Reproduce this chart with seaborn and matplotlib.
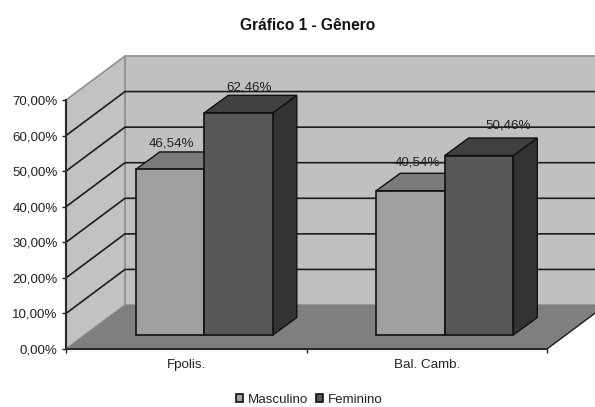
import matplotlib
matplotlib.use("Agg")
import matplotlib.pyplot as plt
from matplotlib.patches import Polygon
from matplotlib.transforms import Affine2D
import pandas as pd
import seaborn as sns

# Survey results by location and gender
locations = ["Fpolis.", "Bal. Camb."]
genders = ["Masculino", "Feminino"]
masculino = [46.54, 40.54]
feminino = [62.46, 50.46]
y_ticks = [0, 10, 20, 30, 40, 50, 60, 70]

W, H = 595, 407
sns.set_theme(style="white")
plt.rcParams["font.family"] = ["Liberation Sans", "DejaVu Sans"]
plt.rcParams["text.color"] = "#222222"

df = pd.DataFrame({
    "local": locations * 2,
    "genero": [genders[0]] * 2 + [genders[1]] * 2,
    "valor": masculino + feminino,
})

fig = plt.figure(figsize=(W / 100, H / 100), dpi=100)
ax = fig.add_axes([66 / W, (H - 349) / H, 481 / W, 249 / H])
ax.set_facecolor("none")

# Pixel-to-data factors for the oblique projection
px_x = 2 / 481
px_y = 70 / 249
wall_dx, wall_dy = 59 * px_x, 44 * px_y
bar_dx, bar_dy = 24 * px_x, 17.5 * px_y
x0, x1 = -0.5, 1.5

# Bars stand part way back on the floor
bar_plane = ax.transData + Affine2D().translate(18, 14)
front_colors = {"Masculino": "#a0a0a0", "Feminino": "#585858"}
sns.barplot(data=df, x="local", y="valor", hue="genero", order=locations,
            hue_order=genders, palette=front_colors, width=0.57, gap=0,
            edgecolor="#111111", linewidth=1.2, saturation=1, ax=ax,
            transform=bar_plane)


def face(points, color, z, edge="#111111", lw=1.0, transform=None):
    ax.add_patch(Polygon(points, closed=True, facecolor=color, edgecolor=edge,
                         linewidth=lw, zorder=z, clip_on=False,
                         transform=transform if transform is not None else ax.transData))


# Room: floor and two walls
face([(x0, 0), (x1, 0), (x1 + wall_dx, wall_dy), (x0 + wall_dx, wall_dy)], "#7f7f7f", 0.2, edge="none")
face([(x0 + wall_dx, wall_dy), (x1 + wall_dx, wall_dy), (x1 + wall_dx, 70 + wall_dy), (x0 + wall_dx, 70 + wall_dy)],
     "#c0c0c0", 0.1, edge="#8f8f8f", lw=1.2)
face([(x0, 0), (x0 + wall_dx, wall_dy), (x0 + wall_dx, 70 + wall_dy), (x0, 70)], "#c2c2c2", 0.1, edge="#8f8f8f", lw=1.2)

# Gridlines run along the side wall and across the back
for v in y_ticks[1:-1]:
    ax.plot([x0, x0 + wall_dx, x1 + wall_dx], [v, v + wall_dy, v + wall_dy],
            color="#1c1c1c", lw=1.2, zorder=0.5, clip_on=False)
ax.plot([x1, x1 + wall_dx], [0, wall_dy], color="#1c1c1c", lw=1.0, zorder=0.5, clip_on=False)

# Side and top faces built from each drawn bar
top_colors = ["#7b7b7b", "#404040"]
side_colors = ["#6e6e6e", "#333333"]
for i, container in enumerate(ax.containers):
    for bar in container:
        a, b, h = bar.get_x(), bar.get_x() + bar.get_width(), bar.get_height()
        base_z = 2 + 2 * i
        face([(b, 0), (b, h), (b + bar_dx, h + bar_dy), (b + bar_dx, bar_dy)],
             side_colors[i], base_z, transform=bar_plane)
        face([(a, h), (b, h), (b + bar_dx, h + bar_dy), (a + bar_dx, h + bar_dy)],
             top_colors[i], base_z, transform=bar_plane)
        bar.set_zorder(base_z + 1)

# Value labels above the bars, nudged clear of the top faces
label_shift_px = {("Masculino", 0): (1, 26), ("Feminino", 0): (11, 25),
                  ("Masculino", 1): (7, 28), ("Feminino", 1): (29, 30)}
series = [masculino, feminino]
for i, values in enumerate(series):
    for j, value in enumerate(values):
        bar = ax.containers[i][j]
        cx = bar.get_x() + bar.get_width() / 2
        sx, sy = label_shift_px[(genders[i], j)]
        ax.annotate(f"{value:.2f}%".replace(".", ","), (cx, value), xycoords=bar_plane,
                    xytext=(sx * 0.72, sy * 0.72), textcoords="offset points",
                    ha="center", va="center", fontsize=9.6, color="#222222",
                    zorder=9, annotation_clip=False)

# Axes
ax.set_xlim(x0, x1)
ax.set_ylim(0, 70)
ax.set_xlabel("")
ax.set_ylabel("")
ax.set_yticks(y_ticks)
ax.set_yticklabels([f"{v:.2f}%".replace(".", ",") for v in y_ticks], fontsize=9.6, color="#222222")
ax.set_xticks(range(len(locations)))
ax.set_xticklabels(locations, fontsize=9.6, color="#222222")
ax.set_xticks([-0.5, 0.5, 1.5], minor=True)
ax.tick_params(axis="x", which="major", length=0, pad=7)
ax.tick_params(axis="x", which="minor", length=3, width=1, color="#222222", bottom=True)
ax.tick_params(axis="y", length=3, width=1, color="#222222", left=True, pad=3)
for side in ("top", "right"):
    ax.spines[side].set_visible(False)
for side in ("left", "bottom"):
    ax.spines[side].set_color("#2a2a2a")
    ax.spines[side].set_linewidth(1.5)
    ax.spines[side].set_zorder(1)

fig.text(308 / W, (H - 25) / H, "Gráfico 1 - Gênero", ha="center", va="center",
         fontsize=11.2, fontweight="bold", color="#111111")

sns.move_legend(ax, "center", bbox_to_anchor=(309 / W, (H - 400) / H),
                bbox_transform=fig.transFigure, ncol=2, frameon=False, title=None,
                fontsize=9.6, handlelength=0.55, handleheight=0.55, handletextpad=0.35,
                columnspacing=0.6, borderpad=0, labelcolor="#222222")

fig.savefig("out.png", dpi=100)
